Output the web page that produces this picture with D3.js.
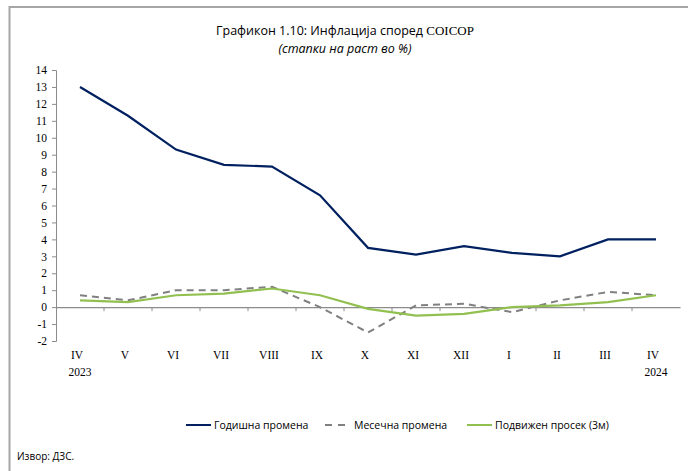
<!DOCTYPE html>
<html>
<head>
<meta charset="utf-8">
<script src="https://cdn.jsdelivr.net/npm/d3@7"></script>
<style>
  body { margin: 0; background: #fff; }
  svg { display: block; }
</style>
</head>
<body>
<div id="chart"></div>
<script>
// Data________________________________________________________________
const months = ['IV', 'V', 'VI', 'VII', 'VIII', 'IX', 'X', 'XI', 'XII', 'I', 'II', 'III', 'IV'];
const years = ['2023', '', '', '', '', '', '', '', '', '', '', '', '2024'];
const annual = [13.0, 11.3, 9.3, 8.4, 8.3, 6.6, 3.5, 3.1, 3.6, 3.2, 3.0, 4.0, 4.0];
const monthly = [0.7, 0.4, 1.0, 1.0, 1.2, 0.0, -1.5, 0.1, 0.2, -0.3, 0.4, 0.9, 0.7];
const movingAvg = [0.4, 0.3, 0.7, 0.8, 1.1, 0.7, -0.1, -0.5, -0.4, 0.0, 0.1, 0.3, 0.7];
const yTicks = d3.range(-2, 15, 1);
const seriesNames = ['Годишна промена', 'Месечна промена', 'Подвижен просек (3м)'];

// Layout______________________________________________________________
const width = 688, height = 471;
const sans = '"Open Sans", "Liberation Sans", sans-serif';
const serif = '"Liberation Serif", serif';

const svg = d3.select('#chart').append('svg')
  .attr('width', width)
  .attr('height', height);

// frame
svg.append('path')
  .attr('d', `M9.5,${height} V7 H${width}`)
  .attr('fill', 'none')
  .attr('stroke', '#a6a6a6')
  .attr('stroke-width', 2);

// title
svg.append('text')
  .attr('x', 345).attr('y', 35)
  .attr('text-anchor', 'middle')
  .attr('font-family', sans)
  .attr('font-size', 12.5)
  .text('Графикон 1.10: Инфлација според ')
  .append('tspan')
  .attr('font-family', serif)
  .attr('font-size', 13)
  .text('COICOP');
svg.append('text')
  .attr('x', 345).attr('y', 53)
  .attr('text-anchor', 'middle')
  .attr('font-family', sans)
  .attr('font-size', 12.5)
  .attr('font-style', 'italic')
  .text('(стапки на раст во %)');

// Scales______________________________________________________________
const x = d3.scaleBand()
  .domain(d3.range(months.length))
  .range([56, 680]);
const y = d3.scaleLinear()
  .domain([-2, 14])
  .range([341, 70]);
const cx = i => x(i) + x.bandwidth() / 2;

// y axis
const yAxis = svg.append('g')
  .attr('transform', `translate(${x.range()[0]},0)`)
  .call(d3.axisLeft(y).tickValues(yTicks).tickSize(4).tickPadding(5)
    .tickFormat(d => String(d)));
yAxis.selectAll('line, path').attr('stroke', '#8c8c8c');
yAxis.selectAll('text')
  .attr('font-family', serif)
  .attr('font-size', 11.5)
  .attr('fill', '#000');

// zero line axis with category separators
const xAxis = svg.append('g')
  .attr('transform', `translate(0,${y(0)})`)
  .call(d3.axisBottom(x).tickSize(0).tickFormat(''));
xAxis.select('.domain').attr('stroke', '#8c8c8c').attr('stroke-width', 1.2);
xAxis.selectAll('.tick').remove();
xAxis.selectAll('.sep')
  .data(d3.range(1, months.length))
  .enter()
  .append('line')
  .attr('x1', d => x(d)).attr('x2', d => x(d))
  .attr('y1', 0).attr('y2', 4)
  .attr('stroke', '#8c8c8c');

// month labels
svg.append('g')
  .selectAll('text')
  .data(months)
  .enter()
  .append('text')
  .attr('x', (d, i) => cx(i) - 3)
  .attr('y', 359)
  .attr('text-anchor', 'middle')
  .attr('font-family', serif)
  .attr('font-size', 11.5)
  .text(d => d);
svg.append('g')
  .selectAll('text')
  .data(years)
  .enter()
  .append('text')
  .attr('x', (d, i) => cx(i))
  .attr('y', 376)
  .attr('text-anchor', 'middle')
  .attr('font-family', serif)
  .attr('font-size', 11.5)
  .text(d => d);

// Lines_______________________________________________________________
const line = d3.line().x((d, i) => cx(i)).y(d => y(d));
const styles = [
  { data: annual, color: '#002060', dash: null, w: 2.2 },
  { data: monthly, color: '#808080', dash: '7,5', w: 2 },
  { data: movingAvg, color: '#92c050', dash: null, w: 2.2 }
];
// draw order: monthly, moving average, annual
[1, 2, 0].forEach(k => {
  svg.append('path')
    .datum(styles[k].data)
    .attr('d', line)
    .attr('fill', 'none')
    .attr('stroke', styles[k].color)
    .attr('stroke-width', styles[k].w)
    .attr('stroke-dasharray', styles[k].dash);
});

// Legend______________________________________________________________
const legendX = [186, 325, 467];
const legend = svg.append('g')
  .selectAll('g')
  .data(seriesNames)
  .enter()
  .append('g')
  .attr('transform', (d, i) => `translate(${legendX[i]},425)`);
legend.append('line')
  .attr('x1', 0).attr('x2', 25)
  .attr('stroke', (d, i) => styles[i].color)
  .attr('stroke-width', 2)
  .attr('stroke-dasharray', (d, i) => i === 1 ? '7,6' : null);
legend.append('text')
  .attr('x', (d, i) => i === 1 ? 29 : 28)
  .attr('y', 4)
  .attr('font-family', sans)
  .attr('font-size', 10.5)
  .text(d => d);

// source
svg.append('text')
  .attr('x', 17).attr('y', 460)
  .attr('font-family', sans)
  .attr('font-size', 10)
  .text('Извор: ДЗС.');
</script>
</body>
</html>
